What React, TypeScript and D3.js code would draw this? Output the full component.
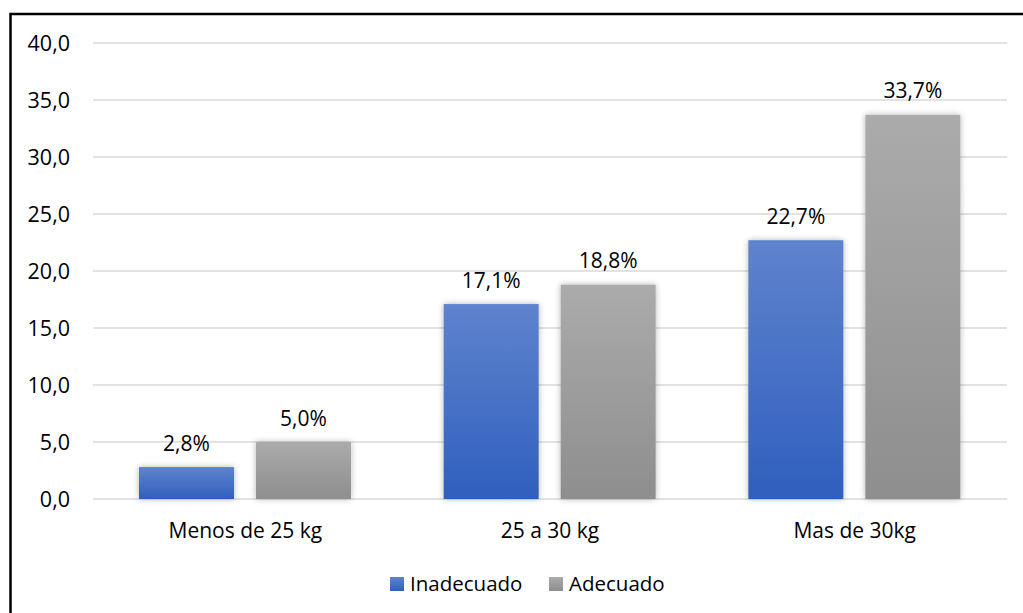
import React from "react";
import * as d3 from "d3";

const categories = ["Menos de 25 kg", "25 a 30 kg", "Mas de 30kg"];
const seriesNames = ["Inadecuado", "Adecuado"];
const inadecuado = [2.8, 17.1, 22.7];
const adecuado = [5.0, 18.8, 33.7];
const yTicks = [0, 5, 10, 15, 20, 25, 30, 35, 40];

const W = 1023;
const H = 613;
const FONT = "'Open Sans', sans-serif";

export default function App() {
  const x = d3.scaleBand<string>().domain(categories).range([93, 1007]).padding(0);
  const step = x.bandwidth();
  const inner = d3
    .scaleBand<string>()
    .domain(seriesNames)
    .range([step * 0.151, step * 0.151 + 212])
    .paddingInner(0.188)
    .paddingOuter(0);
  const y = d3.scaleLinear().domain([0, 40]).range([499, 43]);
  const fmt = (v: number) => v.toFixed(1).replace(".", ",");
  const data = [inadecuado, adecuado];
  const gradIds = ["gBlue", "gGray"];

  return (
    <svg width={W} height={H} style={{ position: "absolute", left: 0, top: 0, background: "#fff" }}>
      <defs>
        <linearGradient id="gBlue" x1="0" y1="0" x2="0" y2="1">
          <stop offset="0" stopColor="#5f83cd" />
          <stop offset="1" stopColor="#2f5fbe" />
        </linearGradient>
        <linearGradient id="gGray" x1="0" y1="0" x2="0" y2="1">
          <stop offset="0" stopColor="#ababab" />
          <stop offset="1" stopColor="#8e8e8e" />
        </linearGradient>
        <filter id="shadow" x="-20%" y="-20%" width="140%" height="140%">
          <feGaussianBlur in="SourceAlpha" stdDeviation="3" />
          <feComponentTransfer>
            <feFuncA type="linear" slope="0.3" />
          </feComponentTransfer>
          <feMerge>
            <feMergeNode />
            <feMergeNode in="SourceGraphic" />
          </feMerge>
        </filter>
      </defs>
      <rect x={0} y={0} width={W} height={H} fill="#fff" />
      <rect x={10.5} y={14} width={W + 20} height={H + 20} fill="none" stroke="#000" strokeWidth={2.5} />

      {yTicks.map((t) => (
        <g key={t}>
          <line x1={93} x2={1007} y1={y(t)} y2={y(t)} stroke="#d9d9d9" strokeWidth={1.5} />
          <text x={70} y={y(t) + 7.5} textAnchor="end" fontFamily={FONT} fontSize={21.5} fill="#000">
            {fmt(t)}
          </text>
        </g>
      ))}

      {categories.map((c, ci) => (
        <g key={c}>
          {seriesNames.map((s, si) => {
            const v = data[si][ci];
            const bx = (x(c) as number) + (inner(s) as number);
            const bw = inner.bandwidth();
            return (
              <g key={s}>
                <rect
                  x={bx}
                  y={y(v)}
                  width={bw}
                  height={y(0) - y(v)}
                  fill={`url(#${gradIds[si]})`}
                  filter="url(#shadow)"
                />
                <text
                  x={bx + bw / 2}
                  y={y(v) - 16.5}
                  textAnchor="middle"
                  fontFamily={FONT}
                  fontSize={21}
                  fill="#000"
                >
                  {fmt(v) + "%"}
                </text>
              </g>
            );
          })}
          <text
            x={(x(c) as number) + step / 2}
            y={538}
            textAnchor="middle"
            fontFamily={FONT}
            fontSize={21}
            fill="#000"
          >
            {c}
          </text>
        </g>
      ))}

      {seriesNames.map((s, si) => {
        const lx = [390, 549][si];
        return (
          <g key={s}>
            <rect x={lx} y={577} width={14} height={14} fill={`url(#${gradIds[si]})`} />
            <text x={lx + 20} y={590.5} fontFamily={FONT} fontSize={20.5} fill="#000">
              {s}
            </text>
          </g>
        );
      })}
    </svg>
  );
}
